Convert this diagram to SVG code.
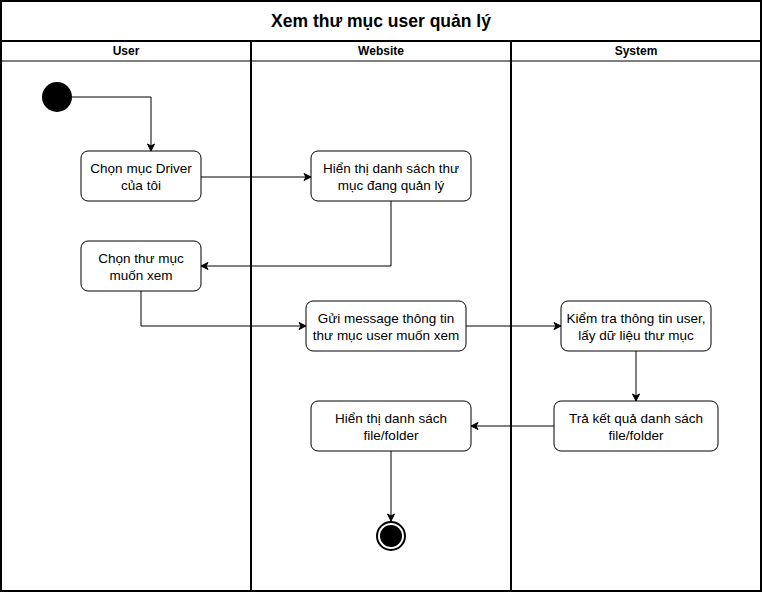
<svg xmlns="http://www.w3.org/2000/svg" width="762" height="592" viewBox="0 0 762 592">
<defs>
<style>
.lane{fill:#fff;stroke:#000;stroke-width:2}
.node rect{fill:#fff;stroke:#000;stroke-width:1}
.t{font-family:"Liberation Sans",Arial,sans-serif;font-size:13.5px;text-anchor:middle;fill:#000}
.h{font-family:"Liberation Sans",Arial,sans-serif;font-size:12px;font-weight:bold;text-anchor:middle;fill:#000}
.title{font-family:"Liberation Sans",Arial,sans-serif;font-size:17.5px;font-weight:bold;text-anchor:middle;fill:#000}
.edge{fill:none;stroke:#000;stroke-width:1}
</style>
<marker id="arr" markerWidth="10" markerHeight="10" refX="8" refY="5" orient="auto" markerUnits="userSpaceOnUse">
<path d="M1,1.5 L8,5 L1,8.5 L3,5 Z" fill="#000" stroke="#000" stroke-width="1"/>
</marker>
</defs>
<g id="pool">
<rect x="1" y="1" width="760" height="590" class="lane"/>
<line x1="1" y1="41" x2="761" y2="41" stroke="#000" stroke-width="2"/>
<text x="381" y="27" class="title">Xem thư mục user quản lý</text>
</g>
<g id="lane-user">
<rect x="1" y="41" width="250" height="550" class="lane"/>
<line x1="1" y1="61" x2="251" y2="61" stroke="#000" stroke-width="1"/>
<text x="126" y="55" class="h">User</text>
</g>
<g id="lane-website">
<rect x="251" y="41" width="260" height="550" class="lane"/>
<line x1="251" y1="61" x2="511" y2="61" stroke="#000" stroke-width="1"/>
<text x="381" y="55" class="h">Website</text>
</g>
<g id="lane-system">
<rect x="511" y="41" width="250" height="550" class="lane"/>
<line x1="511" y1="61" x2="761" y2="61" stroke="#000" stroke-width="1"/>
<text x="636" y="55" class="h">System</text>
</g>
<g id="connectors">
<path class="edge" d="M72,97 H151 V151" marker-end="url(#arr)"/>
<path class="edge" d="M201,177 H311" marker-end="url(#arr)"/>
<path class="edge" d="M391,201 V266 H201" marker-end="url(#arr)"/>
<path class="edge" d="M141,291 V326 H306" marker-end="url(#arr)"/>
<path class="edge" d="M466,326 H561" marker-end="url(#arr)"/>
<path class="edge" d="M636,351 V401" marker-end="url(#arr)"/>
<path class="edge" d="M554,426 H471" marker-end="url(#arr)"/>
<path class="edge" d="M391,451 V521" marker-end="url(#arr)"/>
</g>
<g id="start"><circle cx="57" cy="97" r="15" fill="#000"/></g>
<g id="n1" class="node"><rect x="81" y="151" width="120" height="50" rx="7"/><text class="t" x="141" y="173">Chọn mục Driver</text><text class="t" x="141" y="190">của tôi</text></g>
<g id="n2" class="node"><rect x="311" y="151" width="160" height="50" rx="7"/><text class="t" x="391" y="173">Hiển thị danh sách thư</text><text class="t" x="391" y="190">mục đang quản lý</text></g>
<g id="n3" class="node"><rect x="81" y="241" width="120" height="50" rx="7"/><text class="t" x="141" y="263">Chọn thư mục</text><text class="t" x="141" y="280">muốn xem</text></g>
<g id="n4" class="node"><rect x="306" y="301" width="160" height="50" rx="7"/><text class="t" x="386" y="323">Gửi message thông tin</text><text class="t" x="386" y="340">thư mục user muốn xem</text></g>
<g id="n5" class="node"><rect x="561" y="301" width="150" height="50" rx="7"/><text class="t" x="636" y="323">Kiểm tra thông tin user,</text><text class="t" x="636" y="340">lấy dữ liệu thư mục</text></g>
<g id="n6" class="node"><rect x="554" y="401" width="164" height="50" rx="7"/><text class="t" x="636" y="423">Trả kết quả danh sách</text><text class="t" x="636" y="440">file/folder</text></g>
<g id="n7" class="node"><rect x="311" y="401" width="160" height="50" rx="7"/><text class="t" x="391" y="423">Hiển thị danh sách</text><text class="t" x="391" y="440">file/folder</text></g>
<g id="end"><circle cx="391" cy="536" r="14" fill="#fff" stroke="#000" stroke-width="2"/><circle cx="391" cy="536" r="11" fill="#000"/></g>
</svg>
